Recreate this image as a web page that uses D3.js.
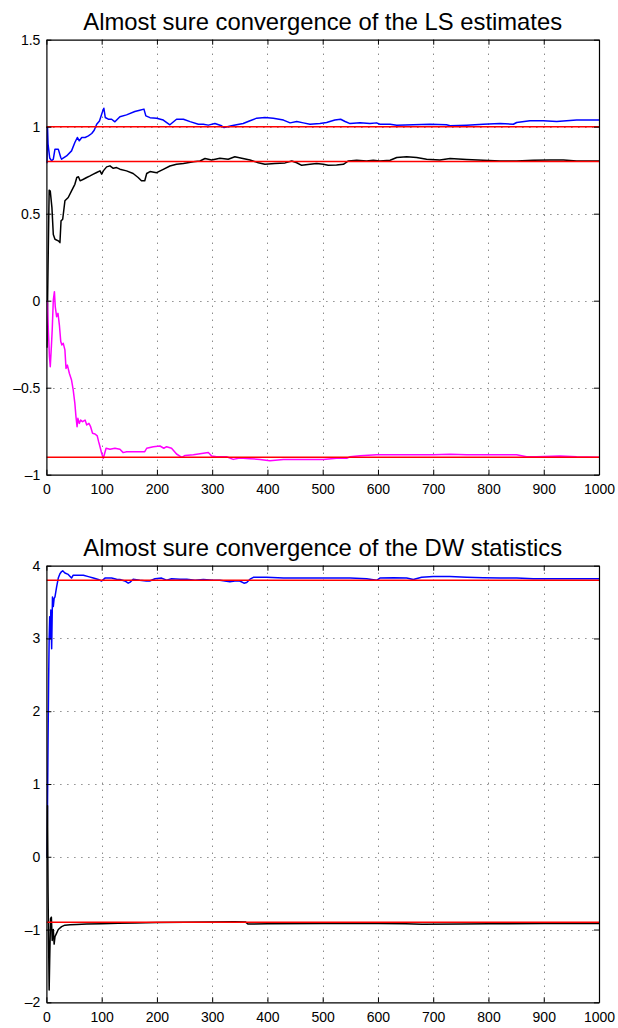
<!DOCTYPE html>
<html><head><meta charset="utf-8">
<script src="https://cdn.jsdelivr.net/npm/d3@7"></script>
<style>
body{margin:0;background:#fff}
svg{display:block}
</style>
</head><body>
<svg id="chart" width="618" height="1028"></svg>
<script>
// ---------- data ----------
const xTicks = [0,100,200,300,400,500,600,700,800,900,1000];
const lsYTicks = [-1,-0.5,0,0.5,1,1.5];
const dwYTicks = [-2,-1,0,1,2,3,4];
const lsTitle = "Almost sure convergence of the LS estimates";
const dwTitle = "Almost sure convergence of the DW statistics";
const lsRefs = [1, 0.8, -0.9];
const dwRefs = [3.8, -0.9];

// LS estimates, [n, estimate]
const lsBlue = [[1,0.79],[2,1.0],[3,0.9],[4.5,0.86],[6,0.82],[9.5,0.804],[12.5,0.813],[15.5,0.871],[21.5,0.871],[26,0.823],[27.5,0.813],[36.5,0.832],[45.5,0.861],[51.5,0.909],[56,0.938],[59.5,0.919],[64,0.938],[70,0.938],[76,0.947],[82,0.961],[86.5,0.98],[91,1.014],[96,1.033],[99,1.062],[102,1.091],[104,1.106],[106.5,1.053],[112,1.043],[118,1.043],[124,1.028],[133,1.057],[145,1.068],[160,1.087],[169,1.095],[176.5,1.101],[180,1.062],[187.5,1.052],[199.5,1.049],[211.5,1.038],[223.5,1.011],[235.5,1.043],[248,1.043],[260,1.029],[275,1.014],[284,1.014],[293,1.009],[305,1.018],[317,1.005],[321.5,0.995],[335,1.005],[344,1.011],[356,1.018],[368.5,1.034],[380.5,1.049],[395.5,1.053],[410.5,1.049],[429,1.038],[441,1.022],[453,1.03],[465,1.022],[477,1.014],[495,1.018],[507,1.024],[522,1.038],[532.5,1.043],[540.5,1.03],[549.5,1.018],[567.5,1.022],[585.5,1.018],[597.5,1.022],[603.5,1.014],[622,1.014],[634,1.009],[664,1.011],[694,1.014],[724,1.011],[730.5,1.005],[760.5,1.009],[790.5,1.014],[821,1.018],[845,1.014],[851,1.024],[875,1.034],[899,1.034],[923.5,1.03],[959.5,1.038],[1000,1.038]];
const lsBlack = [[1,-0.27],[3,0.2],[5,0.635],[7,0.63],[10,0.535],[12.5,0.38],[15.5,0.353],[21.5,0.344],[24.5,0.334],[26.5,0.459],[29.5,0.468],[33.5,0.574],[39.5,0.593],[45.5,0.631],[51.5,0.669],[55,0.708],[58,0.712],[61,0.689],[67,0.698],[73,0.708],[79,0.717],[85,0.727],[91,0.737],[97,0.746],[100,0.727],[103,0.746],[109,0.769],[115,0.775],[121,0.761],[127,0.765],[133,0.756],[145,0.746],[157,0.731],[166,0.708],[172,0.689],[178,0.689],[181.5,0.731],[187.5,0.742],[199.5,0.736],[211.5,0.755],[223.5,0.774],[235.5,0.784],[248,0.788],[266,0.798],[278,0.803],[287,0.817],[299,0.809],[314,0.819],[329,0.813],[341,0.827],[353.5,0.819],[368.5,0.809],[383.5,0.793],[395.5,0.784],[413.5,0.788],[432,0.792],[444,0.803],[453,0.793],[462,0.778],[477,0.784],[489,0.788],[501,0.784],[510,0.778],[525,0.78],[537.5,0.784],[546.5,0.803],[561.5,0.807],[579.5,0.803],[591.5,0.807],[603.5,0.803],[622,0.807],[634,0.823],[652,0.827],[670,0.823],[688,0.813],[712,0.809],[730.5,0.817],[760.5,0.811],[790.5,0.807],[821,0.803],[851,0.803],[881,0.807],[911,0.809],[935.5,0.809],[959.5,0.803],[1000,0.803]];
const lsMagenta = [[1,0.0],[2,-0.015],[3.5,-0.168],[5.5,-0.322],[7,-0.379],[9,-0.264],[10.5,-0.168],[12.5,0.004],[14.5,0.052],[16,-0.034],[18.5,-0.092],[21,-0.073],[23.5,-0.14],[26,-0.235],[28,-0.254],[30.5,-0.245],[33.5,-0.283],[35.5,-0.389],[38,-0.37],[41.5,-0.417],[45.5,-0.456],[48.5,-0.513],[51.5,-0.59],[53.5,-0.666],[55.5,-0.724],[57,-0.676],[59.5,-0.705],[62,-0.686],[65.5,-0.695],[70,-0.686],[73,-0.714],[77,-0.705],[80,-0.724],[83.5,-0.762],[88,-0.766],[92,-0.777],[94.5,-0.81],[97,-0.839],[100,-0.877],[103,-0.906],[105.5,-0.877],[108,-0.848],[115,-0.854],[124,-0.848],[133,-0.854],[139,-0.873],[145,-0.868],[157,-0.868],[169,-0.868],[178,-0.868],[181.5,-0.848],[193.5,-0.839],[205.5,-0.835],[212.5,-0.848],[217.5,-0.839],[226.5,-0.848],[235.5,-0.881],[245,-0.9],[251,-0.889],[266,-0.885],[284,-0.877],[293,-0.873],[299,-0.893],[308,-0.897],[326,-0.897],[338,-0.912],[350,-0.904],[368.5,-0.908],[386.5,-0.912],[404.5,-0.92],[429,-0.912],[459,-0.912],[483,-0.912],[501,-0.912],[525,-0.906],[543.5,-0.906],[549.5,-0.897],[567.5,-0.891],[597.5,-0.885],[640,-0.885],[670,-0.885],[700,-0.885],[730.5,-0.883],[760.5,-0.885],[790.5,-0.885],[821,-0.885],[851,-0.885],[869,-0.897],[887,-0.897],[929.5,-0.893],[959.5,-0.897],[1000,-0.899]];

// DW statistics, [n, value]
const dwBlue = [[1,0],[2,0.7],[3,1.6],[4,2.4],[5,3.0],[6,3.3],[7,3.0],[8,3.39],[9.5,2.86],[11,3.57],[12.5,3.44],[14,3.55],[15.5,3.57],[18.5,3.71],[21.5,3.83],[24.5,3.89],[27.5,3.92],[29.5,3.93],[33.5,3.9],[39.5,3.88],[45.5,3.83],[48.5,3.87],[58,3.87],[67,3.87],[76,3.85],[85,3.83],[94,3.81],[100,3.79],[106,3.83],[118,3.83],[127,3.815],[133,3.81],[142,3.79],[148,3.76],[151,3.77],[157,3.815],[169,3.80],[181,3.79],[187,3.79],[196.5,3.82],[208.5,3.83],[217.5,3.80],[226.5,3.82],[242,3.815],[254,3.815],[269,3.80],[284,3.81],[302,3.80],[314,3.80],[332,3.78],[341,3.79],[350,3.79],[357.5,3.76],[362.5,3.77],[368.5,3.815],[374.5,3.84],[398.5,3.84],[429,3.83],[459,3.83],[489,3.83],[519,3.83],[549.5,3.83],[579.5,3.82],[597.5,3.80],[603.5,3.83],[628,3.835],[652,3.83],[664,3.81],[679,3.84],[700,3.85],[730,3.85],[760.5,3.84],[790.5,3.835],[821,3.83],[851,3.83],[881,3.82],[911,3.82],[941.5,3.82],[971.5,3.82],[1000,3.82]];
const dwBlack = [[1,0.0],[2,0.7],[3,-0.5],[4,-1.2],[5,-1.83],[6,-1.4],[7.5,-0.85],[9,-0.83],[10.5,-1.15],[12.5,-1.0],[14,-1.2],[15.5,-1.1],[18.5,-1.05],[21.5,-1.0],[27.5,-0.96],[33.5,-0.94],[43,-0.935],[55,-0.93],[73,-0.925],[100,-0.92],[130,-0.915],[160,-0.91],[200,-0.905],[250,-0.9],[300,-0.897],[340,-0.893],[360,-0.895],[365,-0.925],[400,-0.92],[500,-0.918],[600,-0.918],[650,-0.922],[680,-0.928],[750,-0.925],[800,-0.92],[900,-0.918],[1000,-0.917]];

// ---------- drawing ----------
const svg = d3.select("#chart");
const FONT = "'Liberation Sans', Arial, Helvetica, sans-serif";
const L = 46.4, R = 599;

function panel(opt) {
  const x = d3.scaleLinear().domain([0, 1000]).range([L, R]);
  const y = d3.scaleLinear().domain(opt.yDomain).range([opt.bottom, opt.top]);
  const g = svg.append("g");
  const id = "clip" + opt.name;
  svg.append("clipPath").attr("id", id).append("rect")
    .attr("x", L).attr("y", opt.top).attr("width", R - L).attr("height", opt.bottom - opt.top);

  // grid
  const grid = g.append("g").attr("stroke", "#555").attr("stroke-width", 1).attr("stroke-dasharray", "1,6");
  grid.selectAll("line.v").data(xTicks.slice(1, -1)).join("line")
    .attr("x1", d => Math.round(x(d)) + 0.5).attr("x2", d => Math.round(x(d)) + 0.5)
    .attr("y1", opt.top).attr("y2", opt.bottom);
  grid.selectAll("line.h").data(opt.yTicks.slice(1, -1)).join("line")
    .attr("y1", d => Math.round(y(d)) + 0.5).attr("y2", d => Math.round(y(d)) + 0.5)
    .attr("x1", L).attr("x2", R);

  // series
  const line = d3.line().x(d => x(d[0])).y(d => y(d[1]));
  const series = g.append("g").attr("clip-path", `url(#${id})`);
  opt.series.forEach(s => {
    series.append("path").datum(s.data).attr("d", line)
      .attr("fill", "none").attr("stroke", s.color).attr("stroke-width", 1.5)
      .attr("stroke-linejoin", "round");
  });
  // reference lines
  series.selectAll("line.ref").data(opt.refs).join("line")
    .attr("x1", L).attr("x2", R).attr("y1", d => y(d)).attr("y2", d => y(d))
    .attr("stroke", "#ff0000").attr("stroke-width", 1.5);

  // axes (ticks inward)
  const fmt = d => (d < 0 ? "\u2013" : "") + d3.format("")(Math.abs(d));
  const ax = [
    g.append("g").attr("transform", `translate(0,${opt.bottom})`)
      .call(d3.axisBottom(x).tickValues(xTicks).tickSizeInner(-5).tickSizeOuter(0).tickPadding(9.5).tickFormat(fmt)),
    g.append("g").attr("transform", `translate(0,${opt.top})`)
      .call(d3.axisTop(x).tickValues(xTicks).tickSizeInner(-5).tickSizeOuter(0).tickFormat("")),
    g.append("g").attr("transform", `translate(${L},0)`)
      .call(d3.axisLeft(y).tickValues(opt.yTicks).tickSizeInner(-5).tickSizeOuter(0).tickPadding(6).tickFormat(fmt)),
    g.append("g").attr("transform", `translate(${R},0)`)
      .call(d3.axisRight(y).tickValues(opt.yTicks).tickSizeInner(-5).tickSizeOuter(0).tickFormat(""))
  ];
  ax.forEach(a => {
    a.attr("font-family", FONT).attr("font-size", 14);
    a.selectAll("text").attr("fill", "#000");
    a.select(".domain").attr("stroke", "#000").attr("stroke-width", 1.2);
    a.selectAll(".tick line").attr("stroke", "#000");
  });

  // title
  g.append("text").attr("x", (L + R) / 2).attr("y", opt.top - 10)
    .attr("text-anchor", "middle").attr("font-family", FONT).attr("font-size", 23.8)
    .attr("fill", "#000").text(opt.title);
}

panel({
  name: "ls", title: lsTitle, top: 39.7, bottom: 474.7, yDomain: [-1, 1.5], yTicks: lsYTicks,
  refs: lsRefs,
  series: [{data: lsBlue, color: "#0000ff"}, {data: lsBlack, color: "#000000"}, {data: lsMagenta, color: "#ff00ff"}]
});
panel({
  name: "dw", title: dwTitle, top: 565.7, bottom: 1002.3, yDomain: [-2, 4], yTicks: dwYTicks,
  refs: dwRefs,
  series: [{data: dwBlue, color: "#0000ff"}, {data: dwBlack, color: "#000000"}]
});
</script>
</body></html>
